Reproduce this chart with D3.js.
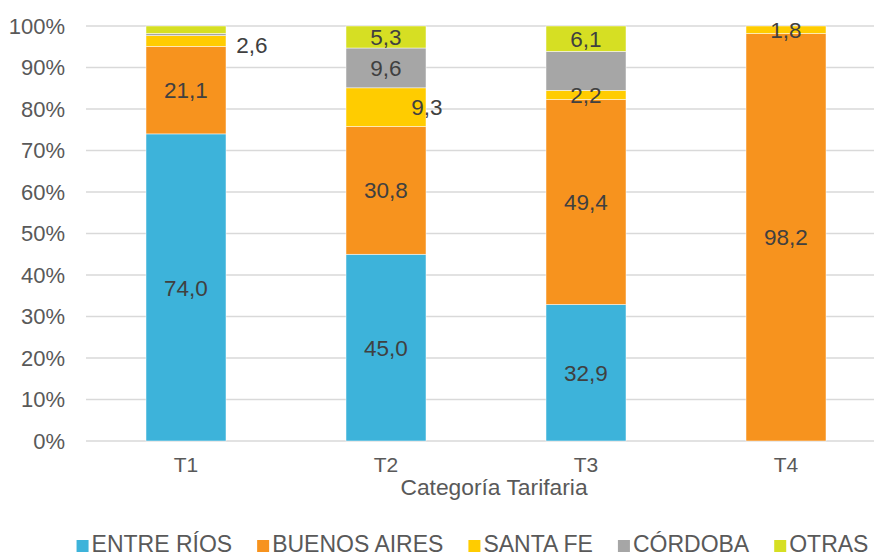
<!DOCTYPE html>
<html>
<head>
<meta charset="utf-8">
<script src="https://cdn.jsdelivr.net/npm/d3@7"></script>
<style>
  html, body { margin: 0; padding: 0; background: #fff; }
  svg { display: block; font-family: "Liberation Sans", Arial, sans-serif; }
</style>
</head>
<body>
<svg id="chart" width="874" height="556"></svg>
<script>
// ---- data ----
const categories = ["T1", "T2", "T3", "T4"];
const seriesNames = ["ENTRE RÍOS", "BUENOS AIRES", "SANTA FE", "CÓRDOBA", "OTRAS"];
const entreRios   = [74.0, 45.0, 32.9, 0];
const buenosAires = [21.1, 30.8, 49.4, 98.2];
const santaFe     = [2.6, 9.3, 2.2, 1.8];
const cordoba     = [0.5, 9.6, 9.4, 0];
const otras       = [1.8, 5.3, 6.1, 0];
const yTickValues = [0, 10, 20, 30, 40, 50, 60, 70, 80, 90, 100];
const hiddenLabels = ["T1|CÓRDOBA", "T1|OTRAS", "T3|CÓRDOBA"];
const xTitle = "Categoría Tarifaria";

// ---- styles ----
const colors = ["#3db3da", "#f7931e", "#ffcc00", "#a6a6a6", "#d6df23"];
const labelNudge = { "T1|SANTA FE": [66, 4], "T2|SANTA FE": [41, 0] };

const seriesValues = [entreRios, buenosAires, santaFe, cordoba, otras];
const rows = categories.map((c, i) => {
  const r = { cat: c };
  seriesNames.forEach((s, j) => r[s] = seriesValues[j][i]);
  return r;
});

const svg = d3.select("#chart");
const mLeft = 86, mRight = 886, mTop = 26, mBottom = 441;

const x = d3.scaleBand().domain(categories).range([mLeft, mRight])
  .paddingInner(0.6).paddingOuter(0.3);
const y = d3.scaleLinear().domain([0, 100]).range([mBottom, mTop]);

// gridlines
svg.append("g").selectAll("line").data(yTickValues).join("line")
  .attr("x1", mLeft).attr("x2", mRight)
  .attr("y1", d => y(d)).attr("y2", d => y(d))
  .attr("stroke", "#d9d9d9").attr("stroke-width", 1.5);

// y tick labels
svg.append("g").selectAll("text").data(yTickValues).join("text")
  .attr("x", 65).attr("y", d => y(d)).attr("dy", "0.36em")
  .attr("text-anchor", "end")
  .attr("font-size", 22).attr("fill", "#595959")
  .text(d => d + "%");

// stacked bars
const stacked = d3.stack().keys(seriesNames)(rows);
const layer = svg.append("g").selectAll("g").data(stacked).join("g")
  .attr("fill", (d, i) => colors[i]);
layer.selectAll("rect").data(d => d.map(v => ({ v, key: d.key }))).join("rect")
  .attr("x", d => x(d.v.data.cat))
  .attr("width", x.bandwidth())
  .attr("y", d => y(d.v[1]))
  .attr("height", d => y(d.v[0]) - y(d.v[1]))
  .attr("stroke", "#ffffff").attr("stroke-width", 0.6)
  .attr("stroke-opacity", d => (d.v[1] - d.v[0]) > 0 ? 0.8 : 0);

// data labels
const fmt = v => v.toFixed(1).replace(".", ",");
const labelData = [];
stacked.forEach(s => s.forEach(v => {
  const val = v[1] - v[0];
  const id = v.data.cat + "|" + s.key;
  if (val > 0 && !hiddenLabels.includes(id)) {
    const n = labelNudge[id] || [0, 0];
    labelData.push({ cat: v.data.cat, mid: (v[0] + v[1]) / 2, val, dx: n[0], dy: n[1] });
  }
}));
svg.append("g").selectAll("text").data(labelData).join("text")
  .attr("x", d => x(d.cat) + x.bandwidth() / 2 + d.dx)
  .attr("y", d => y(d.mid) + d.dy)
  .attr("dy", "0.36em")
  .attr("text-anchor", "middle")
  .attr("font-size", 22.5).attr("fill", "#404040")
  .text(d => fmt(d.val));

// x tick labels
svg.append("g").selectAll("text").data(categories).join("text")
  .attr("x", d => x(d) + x.bandwidth() / 2).attr("y", 472)
  .attr("text-anchor", "middle")
  .attr("font-size", 21).attr("fill", "#595959")
  .text(d => d);

// x title
svg.append("text").attr("x", 494).attr("y", 495)
  .attr("text-anchor", "middle")
  .attr("font-size", 22.8).attr("fill", "#595959")
  .text(xTitle);

// legend
const legend = svg.append("g");
const items = legend.selectAll("g").data(seriesNames).join("g");
items.append("rect").attr("width", 12).attr("height", 12).attr("y", 540)
  .attr("fill", (d, i) => colors[i]);
items.append("text").attr("y", 552).attr("font-size", 23).attr("fill", "#595959")
  .text(d => d);
let cx = 0;
const pos = [];
items.each(function () {
  const w = d3.select(this).select("text").node().getComputedTextLength();
  pos.push(cx);
  cx += 12 + 3 + w + 25;
});
const total = cx - 25;
const start = 472.5 - total / 2;
items.each(function (d, i) {
  const g = d3.select(this);
  g.select("rect").attr("x", start + pos[i]);
  g.select("text").attr("x", start + pos[i] + 15);
});
</script>
</body>
</html>
